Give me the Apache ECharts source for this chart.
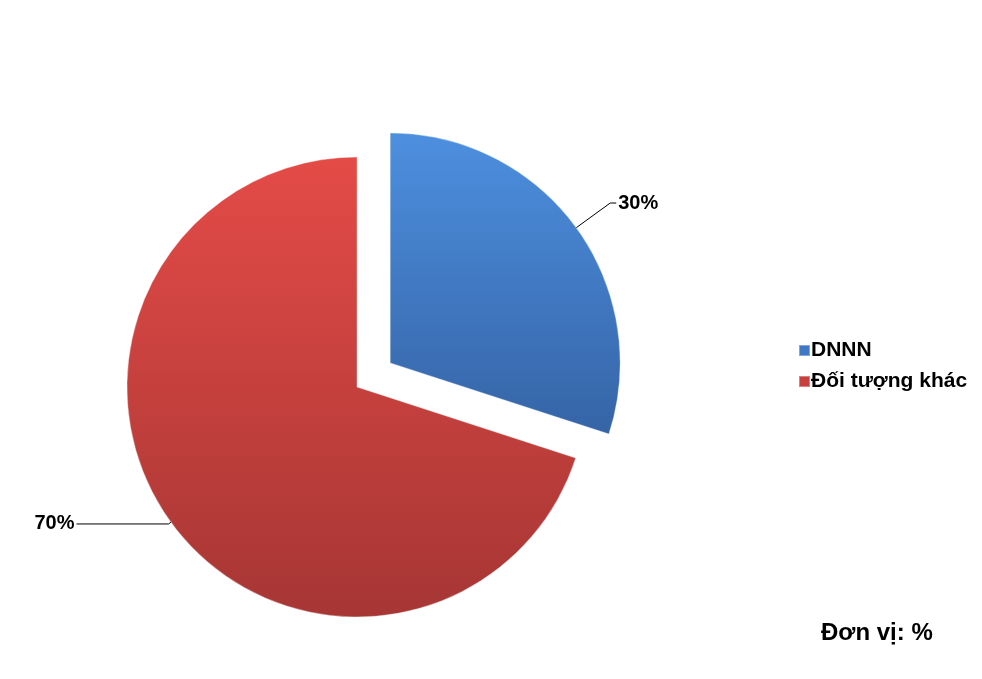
<!DOCTYPE html>
<html>
<head>
<meta charset="utf-8">
<script src="https://cdn.jsdelivr.net/npm/echarts@6/dist/echarts.min.js"></script>
<style>html,body{margin:0;padding:0;background:#fff}#c{width:982px;height:679px}</style>
</head>
<body>
<div id="c"></div>
<script>
const categories = ['DNNN', 'Đối tượng khác'];
const values = [30, 70];
const unitText = 'Đơn vị: %';

const fills = [
  new echarts.graphic.LinearGradient(0, 0, 0, 1, [
    {offset: 0, color: '#4d8fdf'}, {offset: 1, color: '#3564a6'}]),
  new echarts.graphic.LinearGradient(0, 0, 0, 1, [
    {offset: 0, color: '#e44b47'}, {offset: 1, color: '#a63634'}])
];
const legendColors = ['#3f78c4', '#c8403d'];
const FONT = '"Liberation Sans", Arial, sans-serif';

const chart = echarts.init(document.getElementById('c'), null, {renderer: 'canvas'});
chart.setOption({
  animation: false,
  backgroundColor: '#fff',
  legend: {
    orient: 'vertical',
    left: 793,
    top: 335,
    itemWidth: 11,
    itemHeight: 11,
    itemGap: 10,
    icon: 'rect',
    selectedMode: false,
    textStyle: {fontFamily: FONT, fontWeight: 'bold', fontSize: 21, color: '#000', padding: [0, 0, 0, -4]},
    data: categories.map((c, i) => ({name: c, itemStyle: {color: legendColors[i]}}))
  },
  graphic: [{
    type: 'text', left: 821, top: 621,
    style: {text: unitText, font: 'bold 24px "Liberation Sans", Arial, sans-serif', fill: '#000'}
  }],
  series: [{
    type: 'pie',
    center: [357, 387],
    radius: 230,
    startAngle: 90,
    clockwise: true,
    selectedMode: 'single',
    selectedOffset: 41,
    emphasis: {disabled: true},
    label: {
      show: true,
      formatter: '{d}%',
      fontFamily: FONT,
      fontWeight: 'bold',
      fontSize: 20,
      color: '#000',
      distanceToLabelLine: 2
    },
    labelLine: {show: true, length: 42, length2: 6, lineStyle: {color: '#000', width: 1}},
    data: categories.map((c, i) => ({
      name: c,
      value: values[i],
      selected: i === 0,
      itemStyle: {color: fills[i], borderColor: 'rgba(255,255,255,0.35)', borderWidth: 1},
      labelLine: i === 1 ? {length: 3, length2: 92} : undefined
    }))
  }]
});
</script>
</body>
</html>
